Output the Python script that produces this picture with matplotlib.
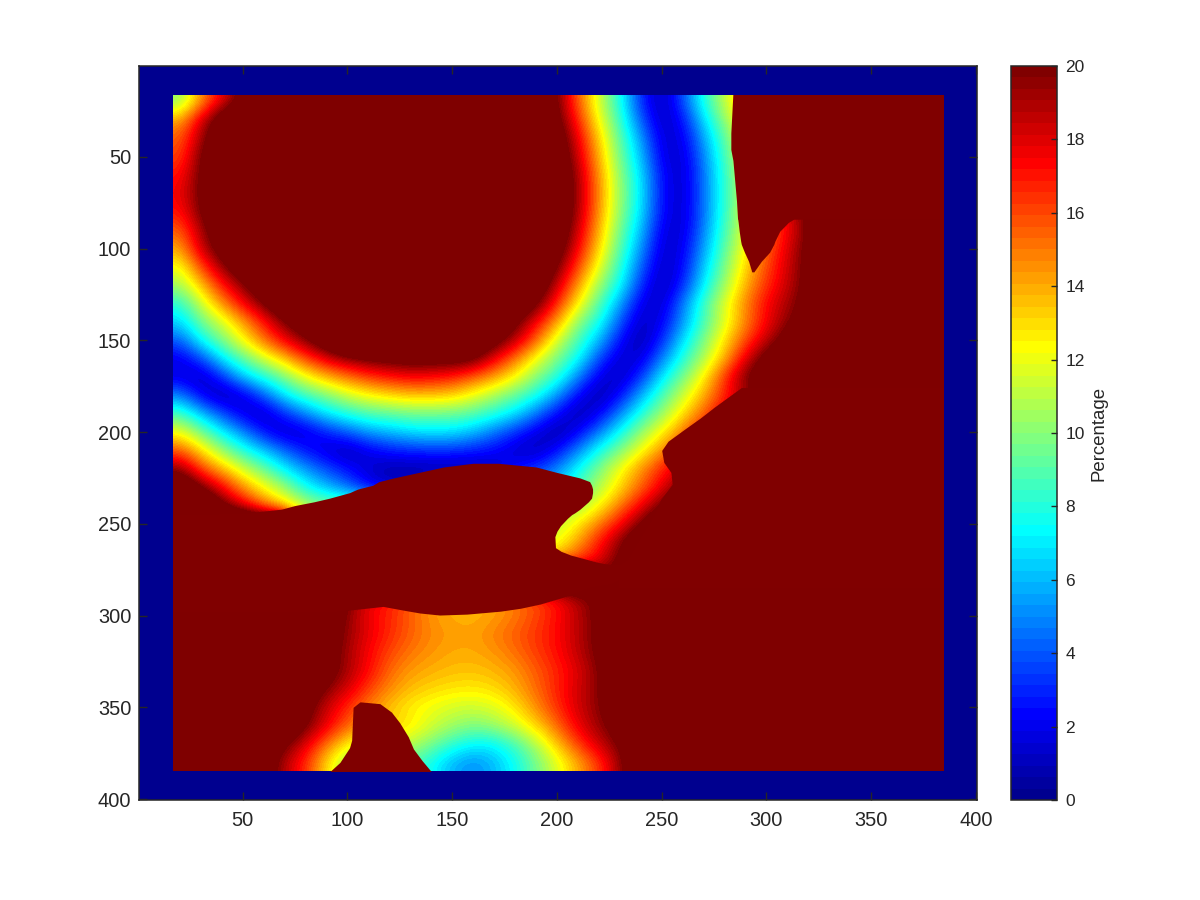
import numpy as np
import matplotlib
matplotlib.use('Agg')
import matplotlib.pyplot as plt
from matplotlib.colors import LinearSegmentedColormap
from matplotlib.patches import Rectangle

plt.rcParams['font.family'] = ['Liberation Sans', 'DejaVu Sans']

S = 25  # anything above 20 saturates

# percentage, one row per y = 20, 30, ... 380, columns x = 20, 30, ... 380
field = [
    [10, 14.5, 17.8, 20.5, 24] + [S]*12 + [23, 20, 15.5, 11.4, 7.8, 3, .7, 3.8, 8, 11.2, 14.5, 17.8, 20.3, 24] + [S]*6,
    [14, 18.3, 21.5] + [S]*14 + [24, 20.6, 16.6, 12.1, 8.4, 4.1, .9, 2.5, 6.8, 10.2, 13.5, 16.8, 19.5, 23] + [S]*6,
    [15.5, 19, 22.5] + [S]*14 + [24, 21.5, 17.7, 13.2, 9.1, 5.4, 1.4, 1.8, 5.6, 9.2, 12.5, 15.8, 18.7, 21.5] + [S]*6,
    [16, 20, 23] + [S]*14 + [24, 22, 18.3, 13.8, 9.5, 6.1, 1.7, 1.4, 5, 8.7, 12, 15.3, 18.3, 21] + [S]*6,
    [17, 20.2, 23] + [S]*14 + [25, 22.5, 19, 14.4, 10, 6.8, 2.3, 1.2, 4.6, 8.4, 11.6, 15, 18, 20.8] + [S]*6,
    [17.5, 20.3, 23] + [S]*14 + [25, 22.5, 19.1, 14.6, 10.2, 7, 2.3, 1.2, 4.6, 8.4, 11.5, 15, 18, 20.8] + [S]*6,
    [17, 20, 23] + [S]*14 + [25, 22.5, 19, 14.4, 10, 6.8, 2.3, 1.2, 4.6, 8.4, 11.6, 15, 18, 20.5] + [S]*6,
    [15.5, 19, 22] + [S]*14 + [24, 22, 18.3, 13.8, 9.5, 6.1, 1.7, 1.4, 5, 8.7, 12, 15.1, 17.5, 20] + [S]*6,
    [14, 18.5, 21] + [S]*14 + [24, 21.2, 17.5, 13, 9, 5.2, 1.3, 1.8, 5.6, 9.2, 12.5, 15.5, 18, 20.5] + [S]*6,
    [12, 16, 19.3, 22] + [S]*13 + [23, 20, 16, 11.9, 8.2, 4.2, 1, 2.2, 6.4, 9.8, 13.2, 16, 18.3, 20.5] + [S]*6,
    [10.5, 13.5, 17, 19.5, 22.5] + [S]*11 + [24, 22, 18.4, 14.3, 10.3, 7.5, 3.1, .7, 3, 7.2, 10.5, 13.9, 16.5, 18.5, 20.6] + [S]*6,
    [8, 11.3, 14.5, 17.5, 20, 23] + [S]*10 + [22.5, 20.4, 16.6, 12.5, 9, 5.6, 1.7, 1.2, 4.8, 8.6, 11.8, 14.8, 17.5, 19, 21] + [S]*6,
    [6.5, 9.5, 11.5, 14.2, 17, 19.8, 22] + [S]*8 + [23, 20.4, 17.5, 14.2, 10, 7.8, 3.9, 1, 2, 5.3, 8.8, 11.7, 14.8, 17.5, 19.6, 21.5] + [S]*6,
    [4, 7.5, 9.7, 12.3, 15.2, 17.7, 19.7, 22] + [S]*6 + [23, 21, 18.7, 15.4, 11.4, 8.7, 6, 2.4, .6, 3, 6.8, 9.8, 12.9, 16, 18.6, 21, 24] + [S]*6,
    [1.8, 3.6, 7, 9.2, 11.4, 13.6, 16, 18, 19.4, 20.2, 20.6, 21, 20.8, 21, 20.5, 17.7, 15, 12, 9.7, 7.5, 3.6, 1.3, 1.5, 4.9, 8.1, 10.8, 13.9, 18, 21, 23, 24] + [S]*6,
    [1.7, .9, 3.1, 6.3, 8, 9.8, 12.1, 13.8, 15, 16.3, 17, 17.5, 17.3, 16.8, 15.5, 14.2, 12.3, 10, 8.2, 4.9, 1.7, .9, 3.3, 7, 9.7, 12.5, 16.5, 20, 22, 24, 25] + [S]*6,
    [5, 2, .6, 1.5, 4.1, 7, 8.7, 9.8, 11.4, 12.3, 13, 13.5, 13.5, 13.2, 12, 10.6, 9.3, 7.8, 5.3, 2.2, .6, 2.4, 5.8, 8.8, 11.3, 14, 16.8, 19, 21.8, 24, 25] + [S]*6,
    [8.8, 6.2, 3.8, 1.7, .9, 3.1, 5, 7, 8, 8.9, 9.2, 9.5, 9.5, 9.4, 9, 8, 6.8, 4.6, 2.3, .6, 2, 5, 8, 10.3, 12.9, 15.5, 18, 20, 23, 25, 25] + [S]*6,
    [12.2, 9.7, 7.2, 5, 2.5, 1, 1.5, 2.8, 4.1, 5.4, 6, 6.7, 7, 6.8, 6, 4.6, 3.1, 1.7, .5, 2.1, 4.8, 7.6, 10.2, 12.5, 15, 17.5, 19.5, 22.5, 25, 25, 25] + [S]*6,
    [15.7, 13, 10.3, 8, 6.2, 4.3, 2.5, 1.5, .7, 1.9, 2.7, 3, 3.2, 3.2, 2.8, 2.3, 1.3, .9, 2.4, 5, 7.8, 9.8, 12.2, 14.5, 16.8, 18.7, 21, 24, 25, 25, 25] + [S]*6,
    [19.6, 16, 13.8, 11.4, 9.4, 7, 5.3, 3.7, 2.5, 1.4, .7, .6, .5, .5, .7, 1.2, 2.5, 3.4, 5, 7.5, 9.8, 12.2, 14.5, 16.8, 18.7, 21, 24, 25, 25, 25, 25] + [S]*6,
    [23, 20, 17.5, 14.4, 12.3, 10.4, 7.5, 6, 4.4, 2.2, 1.2, 1.4, 3, 3, 3, 3, 4, 5, 6.5, 8.7, 10.8, 13, 15.4, 17.8, 20, 22, 25, 25, 25, 25, 25] + [S]*6,
    [25, 24, 20.3, 18, 15, 12.8, 11] + [10]*12 + [10.5, 12.3, 15, 17.6, 20, 23] + [S]*12,
    [S]*6 + [11]*12 + [11.2, 12.6, 15, 17.3, 20, 23] + [S]*13,
    [S]*6 + [11]*12 + [11.8, 14.3, 17, 19.7, 22.5] + [S]*14,
    [S]*6 + [13]*11 + [14, 15, 16, 17.8, 20.2, 23] + [S]*14,
    [S]*20 + [20.5, 21.5] + [S]*15,
    [S]*8 + [19.7, 17.8, 16.8, 15.6, 14.4, 13.9, 13.8, 14.2, 15, 16, 17.2, 19, 20.5, 23.5] + [S]*15,
    [S]*7 + [21.5, 19.5, 17.6, 16.7, 15.5, 14.4, 13.9, 13.8, 14.2, 15, 16, 17.2, 18.7, 20.3, 23] + [S]*15,
    [S]*7 + [21.5, 19.3, 17.8, 16.6, 15.5, 14.7, 14.3, 14.2, 14.9, 15.6, 16.4, 17.3, 18.7, 20.3, 23] + [S]*15,
    [S]*7 + [21, 19, 17.4, 16, 15, 14.4, 14, 14, 14.4, 15.2, 16.2, 17.2, 18.6, 20.2, 23] + [S]*15,
    [S]*6 + [23.5, 21, 19, 17.3, 15.3, 14.3, 13.9, 13.6, 13.5, 13.8, 14.4, 15.6, 16.7, 18, 19.7, 22.5] + [S]*15,
    [S]*6 + [22, 19.6, 18.1, 16.1, 14.6, 13.6, 13.1, 12.8, 12.7, 13, 13.9, 15.3, 16.8, 18.3, 19.7, 22.5] + [S]*15,
    [S]*6 + [20.5, 18.3, 16.5, 14.8, 13.5, 12.5, 12, 11.5, 11.3, 11.7, 12.8, 14.6, 16.5, 18.3, 19.6, 22] + [S]*15,
    [S]*5 + [22.5, 20, 17.8, 15.5, 14, 13.5, 12.8, 11.5, 10.5, 9.8, 10.4, 11.5, 13.2, 15.3, 17.8, 19.3, 21] + [S]*15,
    [S]*4 + [22.5, 20, 18, 15, 12.5, 11, 11, 11, 9.6, 8.2, 7.2, 7.2, 8.7, 10.8, 13.5, 16.2, 18.4, 20, 23] + [S]*14,
    [S]*4 + [21.5, 18.7, 16.5, 13, 10, 10, 10, 9, 7.5, 5.8, 5, 6, 7.5, 9.6, 11.7, 14, 16.3, 19.4, 22.5] + [S]*14,
]

# hard edges of the saturated (=20) areas
top_y = [15, 37, 46, 52, 65, 74, 83.9, 84, 85.7, 90.6, 96, 97.7, 102, 107, 112.7]
top_left = [284, 283, 283, 284, 285, 285.7, 286.2, 286.3, 286.5, 287, 287.7, 288, 289.5, 291.5, 293]
top_right = [385, 385, 385, 385, 385, 385, 385, 313, 310.5, 306.3, 304, 303.5, 301.5, 297.5, 294]

side_y = [175.7, 186.5, 192, 198.6, 205, 210, 216.5, 222, 228.4, 236.6, 245.8, 256.7, 269, 273, 285]
side_x = [288, 275, 268.8, 260.7, 253, 250, 251, 254.4, 255, 249.6, 246, 240, 233.8, 229, 229]

blob_y = [217, 219, 222, 225, 227, 229, 231, 233, 236, 238, 240, 242, 244, 245, 247, 251, 254, 257, 263, 265, 267, 269, 271, 273]
blob_left = [160, 146, 134, 122, 115, 112, 105, 101, 91.5, 84, 75, 68.5, 52, 15, 15, 15, 15, 15, 15, 15, 15, 15, 15, 15]
blob_right = [172, 190, 200, 211, 215.6, 216.5, 217, 217, 216.5, 215, 213, 211, 208.5, 207, 205, 201.7, 200, 199, 199.3, 202, 206.5, 213, 219.5, 229]

under_x = [15, 93, 101, 109, 117, 126.5, 134.6, 144, 157, 173, 182.6, 192, 205, 216, 225.7, 232]
under_y = [298, 298, 297, 296, 295, 297, 298.6, 299.7, 299.2, 297.6, 296, 293.7, 289.3, 284.5, 282.8, 279]

hump_x = [91.6, 96.4, 101, 102, 102.7, 106, 115.5, 121, 125, 129, 131.5, 135.6, 140]
hump_y = [385, 380, 372, 368, 350, 347, 348, 352.6, 358.5, 366, 372.7, 379, 385]

x_ticks = [50, 100, 150, 200, 250, 300, 350, 400]
y_ticks = [50, 100, 150, 200, 250, 300, 350, 400]
bar_ticks = [0, 2, 4, 6, 8, 10, 12, 14, 16, 18, 20]

# same 64 step jet as matlab
jet64 = LinearSegmentedColormap.from_list('jet64', [
    (0, (0, 0, .5625)), (7/63, (0, 0, 1)), (23/63, (0, 1, 1)),
    (39/63, (1, 1, 0)), (55/63, (1, 0, 0)), (1, (.5, 0, 0))], N=64)
dark = '#262626'

fig = plt.figure(figsize=(12, 9), dpi=100)
ax = fig.add_axes([139/1200, 100/900, 838/1200, 734/900])
cax = fig.add_axes([1011/1200, 100/900, 46/1200, 734/900])

ax.set_facecolor(jet64(0))
im = ax.imshow(np.array(field), cmap=jet64, vmin=0, vmax=20, aspect='auto',
               extent=(15, 385, 385, 15), interpolation='bicubic',
               interpolation_stage='data')

hot = jet64(255)
marks = [
    ax.fill_betweenx(top_y, top_left, top_right, color=hot, lw=0),
    ax.fill_betweenx(side_y, side_x, 385, color=hot, lw=0),
    ax.fill_betweenx(blob_y, blob_left, blob_right, color=hot, lw=0),
    ax.fill_between(under_x, 272, under_y, color=hot, lw=0),
    ax.fill_between(hump_x, hump_y, 385, color=hot, lw=0),
    im,
]

# the map stops at 16.5 / 384.5, the rest is the zero border
frame = Rectangle((16.5, 16.5), 368, 368, transform=ax.transData)
for m in marks:
    m.set_clip_path(frame)

ax.set_xlim(.5, 400.5)
ax.set_ylim(400.5, .5)
ax.set_xticks(x_ticks)
ax.set_yticks(y_ticks)
ax.tick_params(direction='in', length=6, width=1, color=dark, labelcolor=dark,
               labelsize=14.4, top=True, right=True)
ax.tick_params(axis='x', pad=8)
ax.tick_params(axis='y', pad=5.5)
for sp in ax.spines.values():
    sp.set_color(dark)
    sp.set_linewidth(1.1)

cb = fig.colorbar(im, cax=cax, ticks=bar_ticks)
cb.outline.set_edgecolor(dark)
cb.outline.set_linewidth(1.1)
cax.tick_params(direction='in', length=4.5, width=1, color=dark, labelcolor=dark,
                labelsize=12.5, pad=6)
cb.set_label('Percentage', color=dark, fontsize=13.4)

fig.savefig('out.png', dpi=100)
